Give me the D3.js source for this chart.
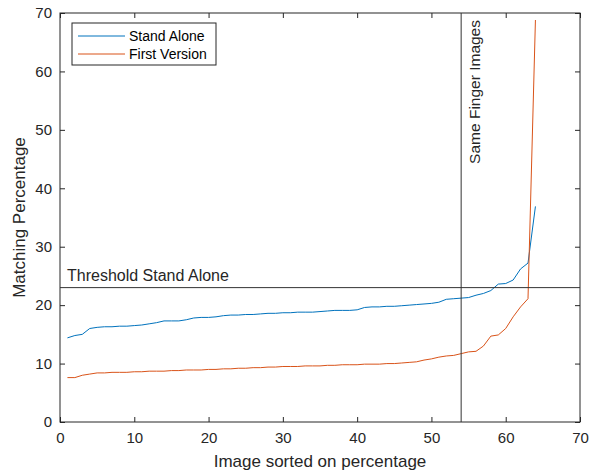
<!DOCTYPE html>
<html><head><meta charset="utf-8">
<script src="https://cdn.jsdelivr.net/npm/d3@7"></script>
<style>body{margin:0;background:#fff;} text{font-family:"Liberation Sans",Arial,sans-serif;}</style>
</head><body>
<svg id="c" width="600" height="475"></svg>
<script>
const standAlone = [14.4,14.8,15.0,16.0,16.2,16.3,16.3,16.4,16.4,16.5,16.6,16.8,17.0,17.3,17.3,17.3,17.5,17.8,17.9,17.9,18.0,18.2,18.3,18.3,18.4,18.4,18.5,18.6,18.6,18.7,18.7,18.8,18.8,18.8,18.9,19.0,19.1,19.1,19.1,19.2,19.6,19.7,19.7,19.8,19.8,19.9,20.0,20.1,20.2,20.3,20.5,21.0,21.1,21.2,21.3,21.7,22.0,22.5,23.6,23.7,24.3,26.2,27.2,36.9];
const firstVersion = [7.6,7.6,8.0,8.2,8.4,8.4,8.5,8.5,8.5,8.6,8.6,8.7,8.7,8.7,8.8,8.8,8.9,8.9,8.9,9.0,9.0,9.1,9.1,9.2,9.2,9.3,9.3,9.4,9.4,9.5,9.5,9.5,9.6,9.6,9.6,9.7,9.7,9.8,9.8,9.8,9.9,9.9,9.9,10.0,10.0,10.1,10.2,10.3,10.6,10.8,11.1,11.3,11.4,11.7,12.0,12.1,13.0,14.7,14.9,16.0,18.0,19.7,21.1,68.8];
const seriesNames = ["Stand Alone","First Version"];
const seriesColors = ["#0072BD","#D95319"];
const xTicks = [0,10,20,30,40,50,60,70];
const yTicks = [0,10,20,30,40,50,60,70];
const thresholdValue = 23;
const sameFingerX = 54;

const svg = d3.select("#c");
const L=60, R=580, T=13, B=422;
const x = d3.scaleLinear().domain([0,70]).range([L,R]);
const y = d3.scaleLinear().domain([0,70]).range([B,T]);
const axisColor = "#262626";

function styleAxis(g){
  g.selectAll(".domain").remove();
  g.selectAll("line").attr("stroke",axisColor);
  g.selectAll("text").attr("fill",axisColor).style("font-size","15px");
}
svg.append("g").attr("transform",`translate(0,${B})`)
  .call(d3.axisBottom(x).tickValues(xTicks).tickSize(-5).tickPadding(10)).call(styleAxis);
svg.append("g").attr("transform",`translate(${L},0)`)
  .call(d3.axisLeft(y).tickValues(yTicks).tickSize(-5).tickPadding(8)).call(styleAxis);
svg.append("g").attr("transform",`translate(0,${T})`)
  .call(d3.axisTop(x).tickValues(xTicks).tickSize(-5).tickFormat("")).call(styleAxis);
svg.append("g").attr("transform",`translate(${R},0)`)
  .call(d3.axisRight(y).tickValues(yTicks).tickSize(-5).tickFormat("")).call(styleAxis);
svg.append("rect").attr("x",L).attr("y",T).attr("width",R-L).attr("height",B-T)
  .attr("fill","none").attr("stroke",axisColor).attr("stroke-width",1);

const line = d3.line().x((d,i)=>x(i+1)).y(d=>y(d));
[standAlone, firstVersion].forEach((s,k)=>{
  svg.append("path").datum(s).attr("d",line).attr("fill","none")
    .attr("stroke",seriesColors[k]).attr("stroke-width",1);
});

svg.append("line").attr("x1",L).attr("x2",R).attr("y1",y(thresholdValue)).attr("y2",y(thresholdValue))
  .attr("stroke","#333").attr("stroke-width",1);
svg.append("text").attr("x",L+7).attr("y",y(thresholdValue)-7).attr("fill",axisColor)
  .style("font-size","16px").text("Threshold Stand Alone");
svg.append("line").attr("x1",x(sameFingerX)).attr("x2",x(sameFingerX)).attr("y1",T).attr("y2",B)
  .attr("stroke","#333").attr("stroke-width",1);
svg.append("text").attr("transform",`translate(${x(sameFingerX)+19},${T+7}) rotate(-90)`)
  .attr("text-anchor","end").attr("fill",axisColor).style("font-size","15.5px").text("Same Finger Images");

svg.append("text").attr("x",(L+R)/2).attr("y",467).attr("text-anchor","middle")
  .attr("fill",axisColor).style("font-size","17px").text("Image sorted on percentage");
svg.append("text").attr("transform",`translate(25,${(T+B)/2}) rotate(-90)`).attr("text-anchor","middle")
  .attr("fill",axisColor).style("font-size","17px").text("Matching Percentage");

const lg = svg.append("g");
lg.append("rect").attr("x",72).attr("y",23).attr("width",144).attr("height",42)
  .attr("fill","#fff").attr("stroke",axisColor).attr("stroke-width",1);
seriesNames.forEach((n,k)=>{
  const yy = 36 + k*18;
  lg.append("line").attr("x1",78).attr("x2",125).attr("y1",yy).attr("y2",yy)
    .attr("stroke",seriesColors[k]).attr("stroke-width",1);
  lg.append("text").attr("x",129).attr("y",yy+5).attr("fill","#000")
    .style("font-size","14px").text(n);
});
</script>
</body></html>
